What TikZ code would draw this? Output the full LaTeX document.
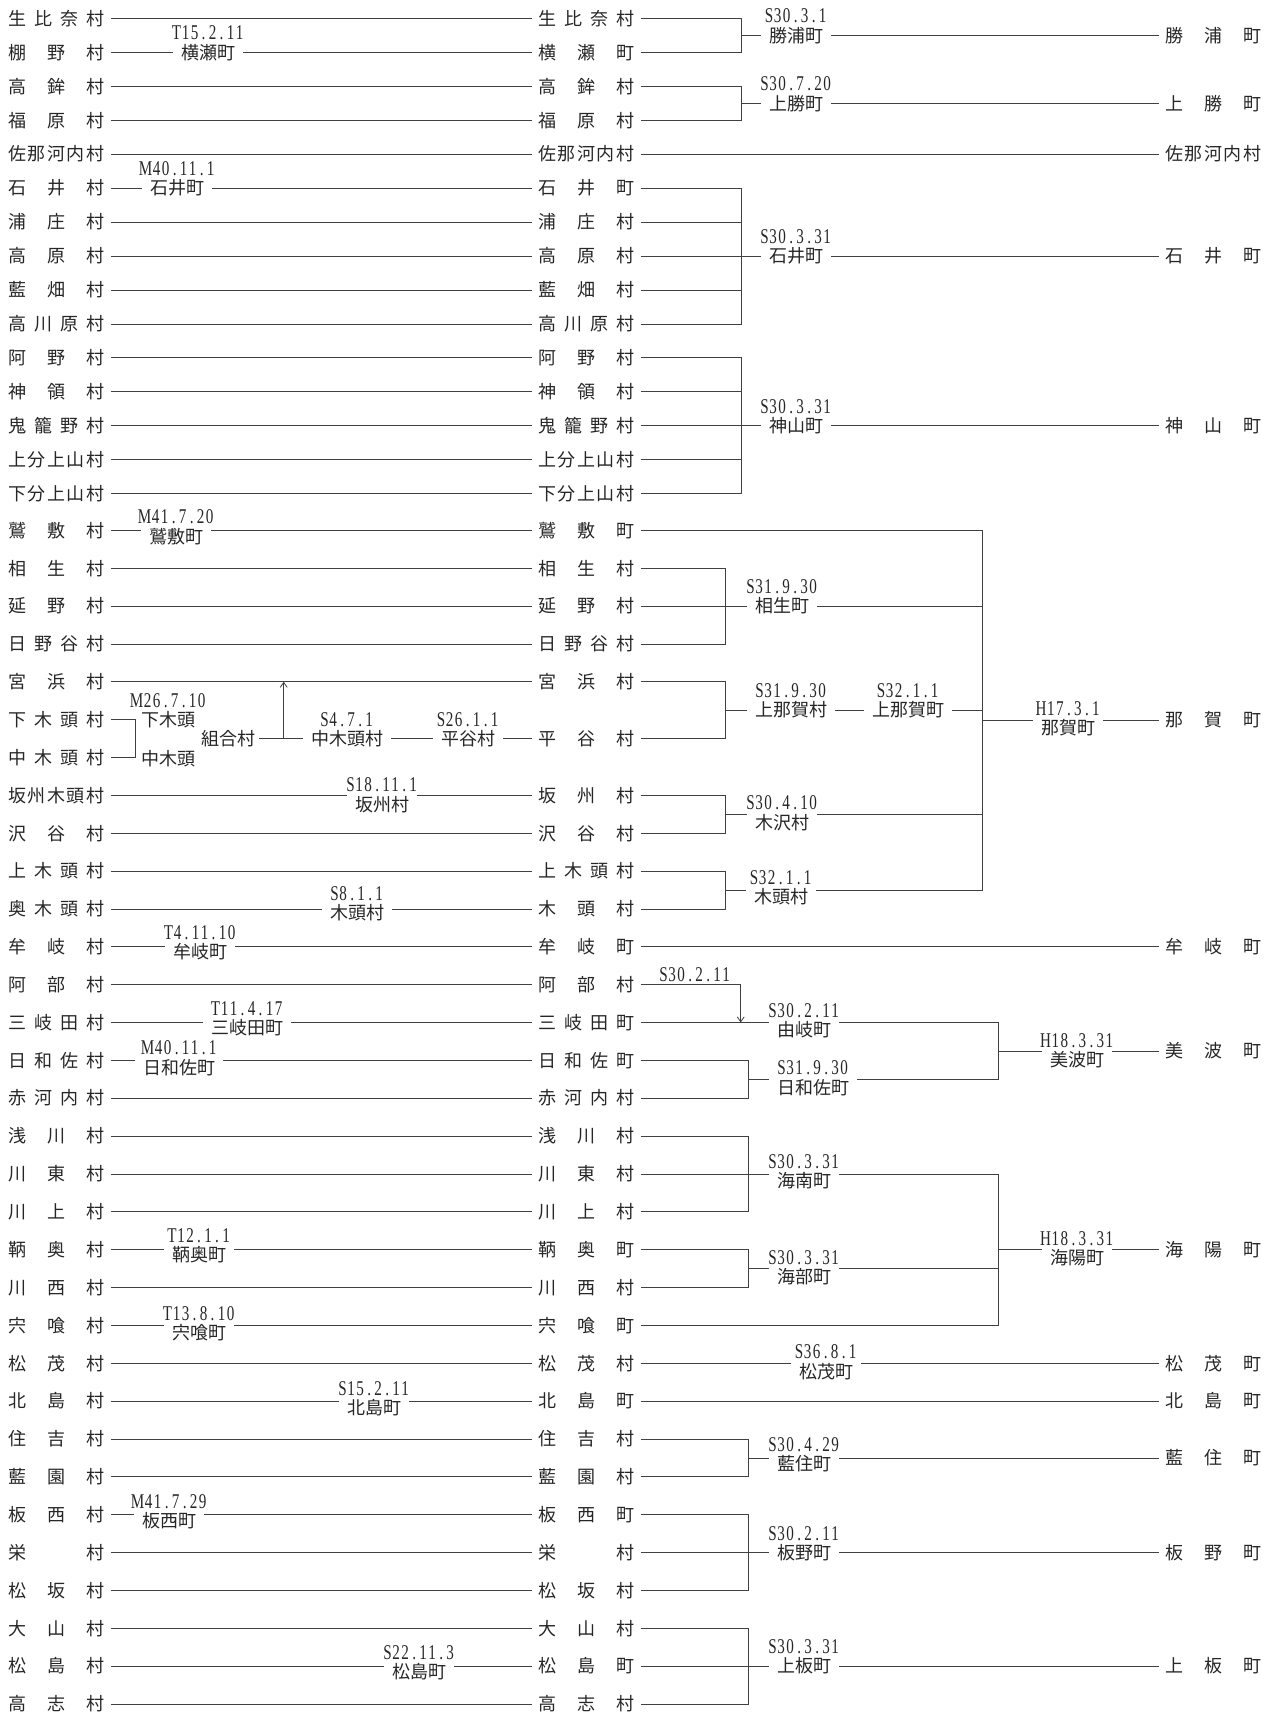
\documentclass[tikz,border=0pt]{standalone}
\usepackage{fontspec}
\setmainfont{Noto Sans CJK JP}
\newfontfamily\datefont[FakeStretch=0.72]{Liberation Serif}
\usetikzlibrary{arrows.meta}

\makeatletter
\def\spreadchars#1{\spread@#1\@nil}
\def\spread@#1#2\@nil{#1\ifx\relax#2\relax\else\hfil\spread@#2\@nil\fi}
\def\cellchars#1{\cell@#1\@nil}
\def\cell@#1#2\@nil{\hbox to 9pt{\hss#1\hss}\ifx\relax#2\relax\else\cell@#2\@nil\fi}
\makeatother
\newcommand{\mura}[1]{\makebox[96pt][s]{\spreadchars{#1}}}
\newcommand{\hz}[2]{#1\cellchars{#2}}

\begin{document}
\begin{tikzpicture}[x=1pt, y=-1pt, >={Straight Barb[length=5pt,width=7pt]}, line width=0.8pt, color=black!75,
		every node/.style={text=black!85, font=\fontsize{18pt}{20pt}\selectfont},
		vil/.style={anchor=west, inner xsep=6pt, inner ysep=1pt},
		nm/.style={inner xsep=8pt, inner ysep=0pt},
		dat/.style={font=\datefont\fontsize{21pt}{22pt}\selectfont, inner sep=0pt},
		chg/.style={nm, label={[dat, label distance=3pt]above:{#1}}}]
	\useasboundingbox (0,0) rectangle (1272,1712);

	% old villages
	\node[vil] (l1) at (2,18.3) {\mura{生比奈村}};
	\node[vil] (l2) at (2,52.3) {\mura{棚野村}};
	\node[vil] (l3) at (2,86.2) {\mura{高鉾村}};
	\node[vil] (l4) at (2,120.2) {\mura{福原村}};
	\node[vil] (l5) at (2,154.1) {\mura{佐那河内村}};
	\node[vil] (l6) at (2,188.1) {\mura{石井村}};
	\node[vil] (l7) at (2,222.0) {\mura{浦庄村}};
	\node[vil] (l8) at (2,256.0) {\mura{高原村}};
	\node[vil] (l9) at (2,289.9) {\mura{藍畑村}};
	\node[vil] (l10) at (2,323.9) {\mura{高川原村}};
	\node[vil] (l11) at (2,357.8) {\mura{阿野村}};
	\node[vil] (l12) at (2,391.8) {\mura{神領村}};
	\node[vil] (l13) at (2,425.7) {\mura{鬼籠野村}};
	\node[vil] (l14) at (2,459.7) {\mura{上分上山村}};
	\node[vil] (l15) at (2,493.6) {\mura{下分上山村}};
	\node[vil] (l16) at (2,530.3) {\mura{鷲敷村}};
	\node[vil] (l17) at (2,568.2) {\mura{相生村}};
	\node[vil] (l18) at (2,606.0) {\mura{延野村}};
	\node[vil] (l19) at (2,643.9) {\mura{日野谷村}};
	\node[vil] (l20) at (2,681.7) {\mura{宮浜村}};
	\node[vil] (l21) at (2,719.6) {\mura{下木頭村}};
	\node[vil] (l22) at (2,757.5) {\mura{中木頭村}};
	\node[vil] (l23) at (2,795.3) {\mura{坂州木頭村}};
	\node[vil] (l24) at (2,833.2) {\mura{沢谷村}};
	\node[vil] (l25) at (2,871.0) {\mura{上木頭村}};
	\node[vil] (l26) at (2,908.9) {\mura{奥木頭村}};
	\node[vil] (l27) at (2,946.8) {\mura{牟岐村}};
	\node[vil] (l28) at (2,984.6) {\mura{阿部村}};
	\node[vil] (l29) at (2,1022.5) {\mura{三岐田村}};
	\node[vil] (l30) at (2,1060.3) {\mura{日和佐村}};
	\node[vil] (l31) at (2,1098.2) {\mura{赤河内村}};
	\node[vil] (l32) at (2,1136.1) {\mura{浅川村}};
	\node[vil] (l33) at (2,1173.9) {\mura{川東村}};
	\node[vil] (l34) at (2,1211.8) {\mura{川上村}};
	\node[vil] (l35) at (2,1249.6) {\mura{鞆奥村}};
	\node[vil] (l36) at (2,1287.5) {\mura{川西村}};
	\node[vil] (l37) at (2,1325.4) {\mura{宍喰村}};
	\node[vil] (l38) at (2,1363.2) {\mura{松茂村}};
	\node[vil] (l39) at (2,1401.1) {\mura{北島村}};
	\node[vil] (l40) at (2,1438.9) {\mura{住吉村}};
	\node[vil] (l41) at (2,1476.8) {\mura{藍園村}};
	\node[vil] (l42) at (2,1514.7) {\mura{板西村}};
	\node[vil] (l43) at (2,1552.5) {\mura{栄村}};
	\node[vil] (l44) at (2,1590.4) {\mura{松坂村}};
	\node[vil] (l45) at (2,1628.2) {\mura{大山村}};
	\node[vil] (l46) at (2,1666.1) {\mura{松島村}};
	\node[vil] (l47) at (2,1704.0) {\mura{高志村}};

	% middle column
	\node[vil] (m1) at (532,18.3) {\mura{生比奈村}};
	\node[vil] (m2) at (532,52.3) {\mura{横瀬町}};
	\node[vil] (m3) at (532,86.2) {\mura{高鉾村}};
	\node[vil] (m4) at (532,120.2) {\mura{福原村}};
	\node[vil] (m5) at (532,154.1) {\mura{佐那河内村}};
	\node[vil] (m6) at (532,188.1) {\mura{石井町}};
	\node[vil] (m7) at (532,222.0) {\mura{浦庄村}};
	\node[vil] (m8) at (532,256.0) {\mura{高原村}};
	\node[vil] (m9) at (532,289.9) {\mura{藍畑村}};
	\node[vil] (m10) at (532,323.9) {\mura{高川原村}};
	\node[vil] (m11) at (532,357.8) {\mura{阿野村}};
	\node[vil] (m12) at (532,391.8) {\mura{神領村}};
	\node[vil] (m13) at (532,425.7) {\mura{鬼籠野村}};
	\node[vil] (m14) at (532,459.7) {\mura{上分上山村}};
	\node[vil] (m15) at (532,493.6) {\mura{下分上山村}};
	\node[vil] (m16) at (532,530.3) {\mura{鷲敷町}};
	\node[vil] (m17) at (532,568.2) {\mura{相生村}};
	\node[vil] (m18) at (532,606.0) {\mura{延野村}};
	\node[vil] (m19) at (532,643.9) {\mura{日野谷村}};
	\node[vil] (m20) at (532,681.7) {\mura{宮浜村}};
	\node[vil] (m21) at (532,738.5) {\mura{平谷村}};
	\node[vil] (m23) at (532,795.3) {\mura{坂州村}};
	\node[vil] (m24) at (532,833.2) {\mura{沢谷村}};
	\node[vil] (m25) at (532,871.0) {\mura{上木頭村}};
	\node[vil] (m26) at (532,908.9) {\mura{木頭村}};
	\node[vil] (m27) at (532,946.8) {\mura{牟岐町}};
	\node[vil] (m28) at (532,984.6) {\mura{阿部村}};
	\node[vil] (m29) at (532,1022.5) {\mura{三岐田町}};
	\node[vil] (m30) at (532,1060.3) {\mura{日和佐町}};
	\node[vil] (m31) at (532,1098.2) {\mura{赤河内村}};
	\node[vil] (m32) at (532,1136.1) {\mura{浅川村}};
	\node[vil] (m33) at (532,1173.9) {\mura{川東村}};
	\node[vil] (m34) at (532,1211.8) {\mura{川上村}};
	\node[vil] (m35) at (532,1249.6) {\mura{鞆奥町}};
	\node[vil] (m36) at (532,1287.5) {\mura{川西村}};
	\node[vil] (m37) at (532,1325.4) {\mura{宍喰町}};
	\node[vil] (m38) at (532,1363.2) {\mura{松茂村}};
	\node[vil] (m39) at (532,1401.1) {\mura{北島町}};
	\node[vil] (m40) at (532,1438.9) {\mura{住吉村}};
	\node[vil] (m41) at (532,1476.8) {\mura{藍園村}};
	\node[vil] (m42) at (532,1514.7) {\mura{板西町}};
	\node[vil] (m43) at (532,1552.5) {\mura{栄村}};
	\node[vil] (m44) at (532,1590.4) {\mura{松坂村}};
	\node[vil] (m45) at (532,1628.2) {\mura{大山村}};
	\node[vil] (m46) at (532,1666.1) {\mura{松島町}};
	\node[vil] (m47) at (532,1704.0) {\mura{高志村}};

	% present towns
	\node[vil] (r1) at (1159,35.3) {\mura{勝浦町}};
	\node[vil] (r3) at (1159,103.2) {\mura{上勝町}};
	\node[vil] (r5) at (1159,154.1) {\mura{佐那河内村}};
	\node[vil] (r8) at (1159,256.0) {\mura{石井町}};
	\node[vil] (r13) at (1159,425.7) {\mura{神山町}};
	\node[vil] (rn) at (1159,720.0) {\mura{那賀町}};
	\node[vil] (r27) at (1159,946.8) {\mura{牟岐町}};
	\node[vil] (rm) at (1159,1050.9) {\mura{美波町}};
	\node[vil] (rk) at (1159,1249.7) {\mura{海陽町}};
	\node[vil] (r38) at (1159,1363.2) {\mura{松茂町}};
	\node[vil] (r39) at (1159,1401.1) {\mura{北島町}};
	\node[vil] (r40) at (1159,1457.9) {\mura{藍住町}};
	\node[vil] (r43) at (1159,1552.5) {\mura{板野町}};
	\node[vil] (r46) at (1159,1666.1) {\mura{上板町}};

	% changes before the merger
	\node[chg={\hz{T}{15.2.11}}] (yokose) at (208,52.3) {横瀬町};
	\node[chg={\hz{M}{40.11.1}}] (ishii0) at (177,188.1) {石井町};
	\node[chg={\hz{M}{41.7.20}}, yshift=-6pt] (washiki) at (176,530.3) {鷲敷町};
	\node[chg={\hz{M}{26.7.10}}] (shimokito) at (168,719.6) {下木頭};
	\node[nm] (nakakito0) at (168,759.0) {中木頭};
	\node[nm, inner xsep=4pt] (kumiai) at (228,738.5) {組合村};
	\node[chg={\hz{S}{4.7.1}}] (nakakito) at (347,738.5) {中木頭村};
	\node[chg={\hz{S}{26.1.1}}] (hiratani) at (468,738.5) {平谷村};
	\node[chg={\hz{S}{18.11.1}}, yshift=-9pt] (sakashu) at (382,795.3) {坂州村};
	\node[chg={\hz{S}{8.1.1}}, yshift=-4pt] (kito0) at (357,908.9) {木頭村};
	\node[chg={\hz{T}{4.11.10}}, yshift=-5pt] (mugi) at (200,946.8) {牟岐町};
	\node[chg={\hz{T}{11.4.17}}, yshift=-5pt] (mikita) at (247,1022.5) {三岐田町};
	\node[chg={\hz{M}{40.11.1}}, yshift=-7pt] (hiwasa0) at (179,1060.3) {日和佐町};
	\node[chg={\hz{T}{12.1.1}}, yshift=-5pt] (tomoku) at (199,1249.6) {鞆奥町};
	\node[chg={\hz{T}{13.8.10}}, yshift=-7pt] (shishikui) at (199,1325.4) {宍喰町};
	\node[chg={\hz{S}{15.2.11}}, yshift=-7pt] (kitajima) at (374,1401.1) {北島町};
	\node[chg={\hz{M}{41.7.29}}, yshift=-6pt] (itanishi) at (169,1514.7) {板西町};
	\node[chg={\hz{S}{22.11.3}}, yshift=-6pt] (matsushima) at (419,1666.1) {松島町};

	% mergers
	\node[chg={\hz{S}{30.3.1}}] (katsuura) at (796,35.3) {勝浦町};
	\node[chg={\hz{S}{30.7.20}}] (kamikatsu) at (796,103.2) {上勝町};
	\node[chg={\hz{S}{30.3.31}}] (ishii) at (796,256.0) {石井町};
	\node[chg={\hz{S}{30.3.31}}] (kamiyama) at (796,425.7) {神山町};
	\node[chg={\hz{S}{31.9.30}}] (aioi) at (782,606.0) {相生町};
	\node[chg={\hz{S}{31.9.30}}] (kaminaka0) at (791,710.1) {上那賀村};
	\node[chg={\hz{S}{32.1.1}}] (kaminaka) at (908,710.1) {上那賀町};
	\node[chg={\hz{S}{30.4.10}}, yshift=-8pt] (kisawa) at (782,814.3) {木沢村};
	\node[chg={\hz{S}{32.1.1}}, yshift=-7pt] (kito) at (781,890.0) {木頭村};
	\node[chg={\hz{H}{17.3.1}}, yshift=-8pt] (naka) at (1068,720.0) {那賀町};
	\node[dat] (abe) at (695,975.0) {\hz{S}{30.2.11}};
	\node[chg={\hz{S}{30.2.11}}, yshift=-7pt] (yuki) at (804,1022.5) {由岐町};
	\node[chg={\hz{S}{31.9.30}}, yshift=-8pt] (hiwasa) at (813,1079.3) {日和佐町};
	\node[chg={\hz{H}{18.3.31}}, yshift=-9pt] (minami) at (1077,1050.9) {美波町};
	\node[chg={\hz{S}{30.3.31}}, yshift=-7pt] (kainan) at (804,1173.9) {海南町};
	\node[chg={\hz{S}{30.3.31}}, yshift=-8pt] (kaifu) at (804,1268.6) {海部町};
	\node[chg={\hz{H}{18.3.31}}, yshift=-8pt] (kaiyo) at (1077,1249.7) {海陽町};
	\node[chg={\hz{S}{36.8.1}}, yshift=-8pt] (matsushige) at (826,1363.2) {松茂町};
	\node[chg={\hz{S}{30.4.29}}, yshift=-6pt] (aizumi) at (804,1457.9) {藍住町};
	\node[chg={\hz{S}{30.2.11}}] (itano) at (804,1552.5) {板野町};
	\node[chg={\hz{S}{30.3.31}}] (kamiita) at (804,1666.1) {上板町};

	% left half
	\draw (l1) -- (m1);
	\draw (l2) -- (yokose);
	\draw (yokose) -- (m2);
	\draw (l3) -- (m3);
	\draw (l4) -- (m4);
	\draw (l5) -- (m5);
	\draw (l6) -- (ishii0);
	\draw (ishii0) -- (m6);
	\draw (l7) -- (m7);
	\draw (l8) -- (m8);
	\draw (l9) -- (m9);
	\draw (l10) -- (m10);
	\draw (l11) -- (m11);
	\draw (l12) -- (m12);
	\draw (l13) -- (m13);
	\draw (l14) -- (m14);
	\draw (l15) -- (m15);
	\draw (l16) -- (l16 -| washiki.west);
	\draw (washiki.east |- l16) -- (m16);
	\draw (l17) -- (m17);
	\draw (l18) -- (m18);
	\draw (l19) -- (m19);
	\draw (l20) -- (m20);
	\coordinate (j21l) at (135.4,738.5);
	\draw (l21) -| (j21l) |- (l22);
	\draw (kumiai) -- (nakakito);
	\draw (nakakito) -- (hiratani);
	\draw (hiratani) -- (m21);
	\coordinate (j21u) at (283.7,738.5);
	\draw[->] (j21u) -- (j21u |- l20);
	\draw (l23) -- (l23 -| sakashu.west);
	\draw (sakashu.east |- l23) -- (m23);
	\draw (l24) -- (m24);
	\draw (l25) -- (m25);
	\draw (l26) -- (l26 -| kito0.west);
	\draw (kito0.east |- l26) -- (m26);
	\draw (l27) -- (l27 -| mugi.west);
	\draw (mugi.east |- l27) -- (m27);
	\draw (l28) -- (m28);
	\draw (l29) -- (l29 -| mikita.west);
	\draw (mikita.east |- l29) -- (m29);
	\draw (l30) -- (l30 -| hiwasa0.west);
	\draw (hiwasa0.east |- l30) -- (m30);
	\draw (l31) -- (m31);
	\draw (l32) -- (m32);
	\draw (l33) -- (m33);
	\draw (l34) -- (m34);
	\draw (l35) -- (l35 -| tomoku.west);
	\draw (tomoku.east |- l35) -- (m35);
	\draw (l36) -- (m36);
	\draw (l37) -- (l37 -| shishikui.west);
	\draw (shishikui.east |- l37) -- (m37);
	\draw (l38) -- (m38);
	\draw (l39) -- (l39 -| kitajima.west);
	\draw (kitajima.east |- l39) -- (m39);
	\draw (l40) -- (m40);
	\draw (l41) -- (m41);
	\draw (l42) -- (l42 -| itanishi.west);
	\draw (itanishi.east |- l42) -- (m42);
	\draw (l43) -- (m43);
	\draw (l44) -- (m44);
	\draw (l45) -- (m45);
	\draw (l46) -- (l46 -| matsushima.west);
	\draw (matsushima.east |- l46) -- (m46);
	\draw (l47) -- (m47);

	% right half
	\coordinate (j1) at (741,35.3);
	\draw (m1) -| (j1) |- (m2);
	\draw (j1) -- (katsuura);
	\draw (katsuura) -- (r1);
	\coordinate (j3) at (741,103.2);
	\draw (m3) -| (j3) |- (m4);
	\draw (j3) -- (kamikatsu);
	\draw (kamikatsu) -- (r3);
	\draw (m5) -- (r5);
	\coordinate (j6) at (741,323.9);
	\draw (m6) -| (j6) -- (m10);
	\draw (m7) -- (m7 -| j6);
	\draw (m9) -- (m9 -| j6);
	\draw (m8) -- (ishii);
	\draw (ishii) -- (r8);
	\coordinate (j11) at (741,493.6);
	\draw (m11) -| (j11) -- (m15);
	\draw (m12) -- (m12 -| j11);
	\draw (m14) -- (m14 -| j11);
	\draw (m13) -- (kamiyama);
	\draw (kamiyama) -- (r13);

	\coordinate (j17) at (725,643.9);
	\draw (m17) -| (j17) -- (m19);
	\draw (m18) -- (aioi);
	\coordinate (j20) at (725,710.1);
	\draw (m20) -| (j20) |- (m21);
	\draw (j20) -- (kaminaka0);
	\draw (kaminaka0) -- (kaminaka);
	\coordinate (j23) at (725,814.3);
	\draw (m23) -| (j23) |- (m24);
	\draw (j23) -- (j23 -| kisawa.west);
	\coordinate (j25) at (725,890.0);
	\draw (m25) -| (j25) |- (m26);
	\draw (j25) -- (j25 -| kito.west);
	\coordinate (jn) at (982.6,720.0);
	\draw (m16) -| (jn);
	\draw (kito.east |- j25) -| (jn);
	\draw (aioi) -- (aioi -| jn);
	\draw (kaminaka) -- (kaminaka -| jn);
	\draw (kisawa.east |- j23) -- (j23 -| jn);
	\draw (jn) -- (jn -| naka.west);
	\draw (naka.east |- jn) -- (rn);
	\draw (m27) -- (r27);

	\coordinate (j28) at (740.7,1022.5);
	\draw[->] (m28) -| (j28);
	\draw (m29) -- (m29 -| yuki.west);
	\coordinate (j30) at (748,1079.3);
	\draw (m30) -| (j30) |- (m31);
	\draw (j30) -- (j30 -| hiwasa.west);
	\coordinate (jm) at (998,1050.9);
	\draw (yuki.east |- m29) -| (jm);
	\draw (hiwasa.east |- j30) -| (jm);
	\draw (jm) -- (jm -| minami.west);
	\draw (minami.east |- jm) -- (rm);

	\coordinate (j32) at (748,1211.8);
	\draw (m32) -| (j32) -- (m34);
	\draw (m33) -- (m33 -| kainan.west);
	\coordinate (j35) at (748,1268.6);
	\draw (m35) -| (j35) |- (m36);
	\draw (j35) -- (j35 -| kaifu.west);
	\coordinate (jk) at (998,1249.7);
	\draw (kainan.east |- m33) -| (jk);
	\draw (m37) -| (jk);
	\draw (kaifu.east |- j35) -- (j35 -| jk);
	\draw (jk) -- (jk -| kaiyo.west);
	\draw (kaiyo.east |- jk) -- (rk);

	\draw (m38) -- (m38 -| matsushige.west);
	\draw (matsushige.east |- m38) -- (r38);
	\draw (m39) -- (r39);
	\coordinate (j40) at (748,1457.9);
	\draw (m40) -| (j40) |- (m41);
	\draw (j40) -- (j40 -| aizumi.west);
	\draw (aizumi.east |- j40) -- (r40);
	\coordinate (j42) at (748,1590.4);
	\draw (m42) -| (j42) -- (m44);
	\draw (m43) -- (itano);
	\draw (itano) -- (r43);
	\coordinate (j45) at (748,1704.0);
	\draw (m45) -| (j45) -- (m47);
	\draw (m46) -- (kamiita);
	\draw (kamiita) -- (r46);
\end{tikzpicture}
\end{document}
